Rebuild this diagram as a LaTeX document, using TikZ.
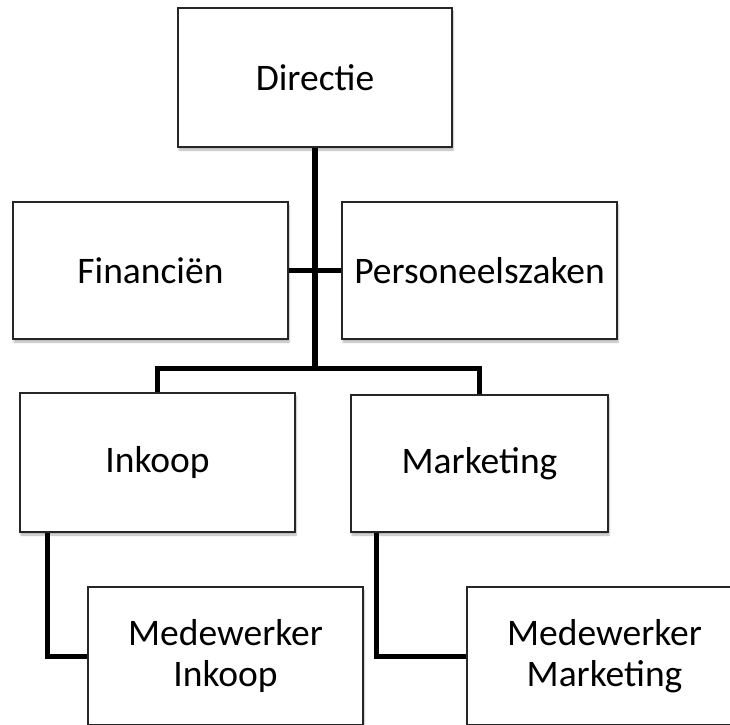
\documentclass[tikz,border=0pt]{standalone}
\usepackage{fontspec}
\setmainfont{Carlito}
\usetikzlibrary{shadows.blur}

\begin{document}
\begin{tikzpicture}[x=1pt, y=-1pt,
    unit/.style={draw=black!85, line width=1.4pt, fill=white, inner sep=0pt,
      minimum width=275pt, minimum height=137pt, align=center,
      font=\fontsize{37.5}{41}\selectfont,
      blur shadow={shadow xshift=1pt, shadow yshift=-3pt, shadow blur steps=6, shadow opacity=30}},
    link/.style={line width=5pt, black}]
    \useasboundingbox (0,0) rectangle (730,724);
    \clip (0,0) rectangle (730,724);

    \node[unit, minimum width=274pt, minimum height=139pt] (dir) at (315,77.5) {Directie};
    \node[unit] (fin) at (150.5,270.5) {Financiën};
    \node[unit] (pers) at (479.5,270.5) {Personeelszaken};
    \node[unit, minimum height=139pt] (ink) at (157.5,462.5) {Inkoop};
    \node[unit, minimum width=257pt] (mkt) at (479.5,463.5) {Marketing};
    \node[unit, minimum height=138pt] (mwi) at (225.5,656) {Medewerker\\Inkoop};
    \node[unit, minimum height=138pt] (mwm) at (604.5,656) {Medewerker\\Marketing};

    % lines between the units
    \coordinate (bus) at (315,368);
    \draw[link, line width=4.5pt] (fin.east) -- (pers.west);
    \draw[link, line width=6pt] (dir.south) -- (bus);
    \draw[link] (ink.north) |- (bus) -| (mkt.north);
    \draw[link] ([xshift=28pt]ink.south west) |- (mwi.west);
    \draw[link] ([xshift=26pt]mkt.south west) |- (mwm.west);
\end{tikzpicture}
\end{document}
